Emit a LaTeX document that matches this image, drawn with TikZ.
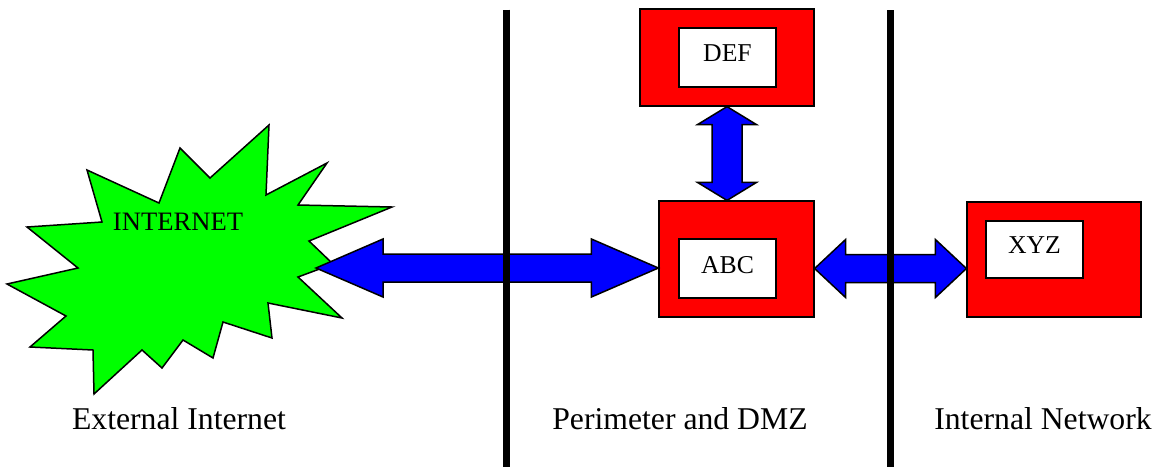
\documentclass[tikz,border=0pt]{standalone}
\usepackage{fontspec}
\setmainfont{Liberation Serif}
\usetikzlibrary{calc}
\definecolor{netgreen}{RGB}{0,255,0}
\definecolor{boxred}{RGB}{255,0,0}
\definecolor{arrowblue}{RGB}{0,0,255}
\tikzset{
  redbox/.style={draw=black, line width=1.2pt, fill=boxred, inner sep=0pt},
  whitebox/.style={draw=black, line width=1.5pt, fill=white, inner sep=0pt,
    minimum width=97pt, text depth=8pt, font=\fontsize{25.7}{28}\selectfont},
  blockarrow/.style={draw=black, line width=1.5pt, fill=arrowblue, line join=miter},
  starshape/.style={draw=black, line width=1.5pt, fill=netgreen, line join=miter},
  zonewall/.style={line width=7pt, draw=black},
  zonelabel/.style={font=\fontsize{31.7}{34}\selectfont, inner sep=0pt}
}
\newcommand\hdarrow[3]{%
  \draw[blockarrow] let \p1=(#1), \p2=(#2) in
    (\x1,\y1) -- (\x1+#3,\y1+29pt) -- (\x1+#3,\y1+14pt) -- (\x2-#3,\y1+14pt)
    -- (\x2-#3,\y1+29pt) -- (\x2,\y1) -- (\x2-#3,\y1-29pt) -- (\x2-#3,\y1-14pt)
    -- (\x1+#3,\y1-14pt) -- (\x1+#3,\y1-29pt) -- cycle;}
\newcommand\vdarrow[3]{%
  \draw[blockarrow] let \p1=(#1), \p2=(#2) in
    (\x1,\y1) -- (\x1+29.5pt,\y1-#3) -- (\x1+15pt,\y1-#3) -- (\x1+15pt,\y2+#3)
    -- (\x1+29.5pt,\y2+#3) -- (\x1,\y2) -- (\x1-29.5pt,\y2+#3) -- (\x1-15pt,\y2+#3)
    -- (\x1-15pt,\y1-#3) -- (\x1-29.5pt,\y1-#3) -- cycle;}
\begin{document}
\begin{tikzpicture}[x=1pt,y=-1pt]
\useasboundingbox (0,0) rectangle (1160,467);

% INTERNET star
\draw[starshape] (269,125) -- (266,195) -- (327,163) -- (298,205) -- (392,207)
  -- (309,241) -- (333,264) -- (298,277) -- (342,318) -- (268,303) -- (272,338)
  -- (223,322) -- (213,358) -- (183,340) -- (162,368) -- (142,350) -- (94,394)
  -- (93,350) -- (30,347) -- (66,316) -- (7,284) -- (78,268) -- (27,227)
  -- (102,222) -- (87,170) -- (159,203) -- (180,148) -- (210,178) -- cycle;
\node[font=\fontsize{26.6}{28}\selectfont, inner sep=0pt] (inet) at (178,222) {INTERNET};
\coordinate (inettip) at (316,268);

% boxes
\node[redbox, minimum width=174pt, minimum height=97pt] (defbox) at (727,57.5) {};
\node[whitebox, minimum height=59pt] (defin) at (727.5,57.5) {DEF};
\node[redbox, minimum width=155pt, minimum height=116pt] (abcbox) at (736.5,259) {};
\node[whitebox, minimum height=59pt] (abcin) at (727.5,268.5) {ABC};
\node[redbox, minimum width=174pt, minimum height=115pt] (xyzbox) at (1054,259.5) {};
\node[whitebox, minimum height=57pt] (xyzin) at (1034.5,249.5) {XYZ};

% arrows
\hdarrow{inettip}{abcin.center -| abcbox.west}{67pt}
\hdarrow{abcin.center -| abcbox.east}{abcin.center -| xyzbox.west}{31pt}
\vdarrow{defbox.south}{defbox.south |- abcbox.north}{18pt}

% zone walls
\draw[zonewall] (506.5,9.5) -- (506.5,467);
\draw[zonewall] (890,10) -- (890,467);

% zone labels
\node[zonelabel] (lext) at (179,419) {External Internet};
\node[zonelabel] (lper) at (680,419) {Perimeter and DMZ};
\node[zonelabel] (lint) at (1043,419) {Internal Network};
\end{tikzpicture}
\end{document}
